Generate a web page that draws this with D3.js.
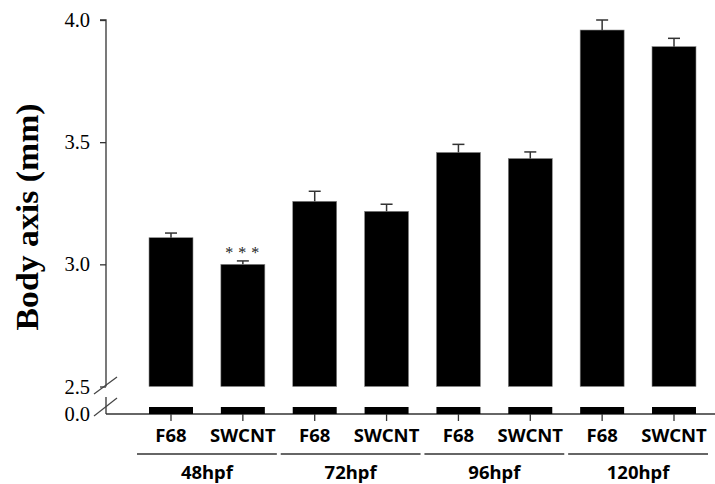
<!DOCTYPE html>
<html><head><meta charset="utf-8">
<script src="https://cdn.jsdelivr.net/npm/d3@7"></script>
<style>body{margin:0;background:#fff}</style>
</head><body>
<svg id="c" width="715" height="484"></svg>
<script>
const categories = ["F68","SWCNT","F68","SWCNT","F68","SWCNT","F68","SWCNT"];
const groups = ["48hpf","72hpf","96hpf","120hpf"];
const values = [3.109, 3.000, 3.258, 3.217, 3.458, 3.433, 3.959, 3.891];
const errors = [0.019, 0.014, 0.041, 0.029, 0.033, 0.027, 0.041, 0.034];
const yTicks = [2.5, 3.0, 3.5, 4.0];
const lowerTicks = [0.0];
const significance = ["","***","","","","","",""];

const svg = d3.select("#c");
const axisX = 106;
const x = d3.scaleBand().domain(d3.range(categories.length))
  .range([135.07, 709.93]).paddingInner(0.388).paddingOuter(0.194);
const y = d3.scaleLinear().domain([2.5, 4.0]).range([386.5, 20]);
const yLow = d3.scaleLinear().domain([0, 0.1]).range([414, 407]);

// upper axis
const ga = svg.append("g").attr("transform", `translate(${axisX},0)`)
  .call(d3.axisLeft(y).tickValues(yTicks).tickFormat(d3.format(".1f")).tickSize(6).tickPadding(10));
ga.select(".domain").attr("d", `M-6,${y(4.0)}H0V${y(2.5)}`);
// lower axis
const gl = svg.append("g").attr("transform", `translate(${axisX},0)`)
  .call(d3.axisLeft(yLow).tickValues(lowerTicks).tickFormat(d3.format(".1f")).tickSize(0).tickPadding(16));
gl.select(".domain").attr("d", `M0,397V${yLow(0)}`);
[ga, gl].forEach(g => {
  g.selectAll("text").attr("font-family", "Liberation Serif, Times New Roman, serif")
    .attr("font-size", 20.5).attr("fill", "#000");
  g.selectAll("line,path").attr("stroke", "#333").attr("stroke-width", 1.3);
});
// break marks
svg.append("line").attr("x1", axisX-12).attr("y1", 394).attr("x2", axisX+11).attr("y2", 377)
  .attr("stroke", "#444").attr("stroke-width", 1.2);
svg.append("line").attr("x1", axisX-12).attr("y1", 416).attr("x2", axisX+11).attr("y2", 398)
  .attr("stroke", "#444").attr("stroke-width", 1.2);

// x axis baseline and ticks
const gx = svg.append("g").attr("transform", `translate(0,${yLow(0)})`)
  .call(d3.axisBottom(x).tickSize(7).tickPadding(8).tickFormat(i => categories[i]));
gx.select(".domain").attr("d", `M${axisX},0H715`);
gx.selectAll("text").attr("font-family", "Noto Sans, sans-serif").attr("font-weight", "bold")
  .attr("font-size", 18.5).attr("fill", "#000");
gx.selectAll("line,path").attr("stroke", "#333").attr("stroke-width", 1.3);

// bars upper
const bars = svg.append("g");
bars.selectAll("rect.up").data(values).join("rect").attr("class","up")
  .attr("x", (d,i) => x(i)).attr("width", x.bandwidth())
  .attr("y", d => y(d)).attr("height", d => y(2.5) - y(d))
  .attr("fill", "#000").attr("stroke", "#888").attr("stroke-width", 0.6);
bars.selectAll("rect.low").data(values).join("rect").attr("class","low")
  .attr("x", (d,i) => x(i)).attr("width", x.bandwidth())
  .attr("y", yLow(0.1)).attr("height", yLow(0) - yLow(0.1))
  .attr("fill", "#000");

// error bars
const eb = svg.append("g").attr("stroke", "#333").attr("stroke-width", 1.5);
values.forEach((v, i) => {
  const cx = x(i) + x.bandwidth()/2;
  eb.append("line").attr("x1", cx).attr("x2", cx).attr("y1", y(v)).attr("y2", y(v+errors[i]));
  eb.append("line").attr("x1", cx-6).attr("x2", cx+6).attr("y1", y(v+errors[i])).attr("y2", y(v+errors[i]));
});

// significance
svg.append("g").selectAll("text").data(values).join("text")
  .attr("x", (d,i) => x(i) + x.bandwidth()/2 + 2)
  .attr("y", (d,i) => y(d + errors[i]) - 3)
  .attr("text-anchor", "middle")
  .attr("font-family", "Liberation Serif, serif").attr("font-size", 16)
  .attr("letter-spacing", 5).attr("fill", "#222")
  .text((d,i) => significance[i]);

// group lines and labels
const gg = svg.append("g");
groups.forEach((g, k) => {
  const left = x(2*k) - 12, right = x(2*k+1) + x.bandwidth() + 12;
  gg.append("line").attr("x1", left).attr("x2", Math.min(right, 715)).attr("y1", 454).attr("y2", 454)
    .attr("stroke", "#333").attr("stroke-width", 1.3);
  gg.append("text").attr("x", (left+right)/2).attr("y", 479).attr("text-anchor", "middle")
    .attr("font-family", "Noto Sans, sans-serif").attr("font-weight", "bold")
    .attr("font-size", 18.5).text(g);
});

// y label
svg.append("text").attr("transform", `translate(38,217) rotate(-90)`)
  .attr("text-anchor", "middle")
  .attr("font-family", "Liberation Serif, Times New Roman, serif")
  .attr("font-weight", "bold").attr("font-size", 31)
  .attr("textLength", 227).attr("lengthAdjust", "spacingAndGlyphs").text("Body axis (mm)");
</script>
</body></html>
